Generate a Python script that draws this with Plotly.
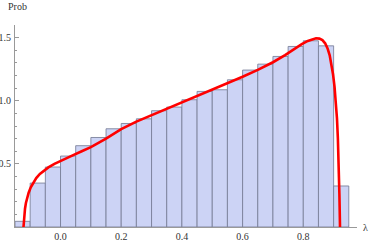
import plotly.graph_objects as go

# Histogram bins (left edges) and heights
bin_left = [-0.15, -0.10, -0.05, 0.00, 0.05, 0.10, 0.15, 0.20, 0.25, 0.30, 0.35,
            0.40, 0.45, 0.50, 0.55, 0.60, 0.65, 0.70, 0.75, 0.80, 0.85, 0.90]
bin_height = [0.045, 0.348, 0.475, 0.562, 0.644, 0.709, 0.778, 0.820, 0.857, 0.921, 0.950,
              1.008, 1.074, 1.087, 1.166, 1.243, 1.290, 1.351, 1.430, 1.475, 1.435, 0.325]
bin_width = 0.05

# Density curve
curve_x = [-0.122, -0.1205, -0.119, -0.117, -0.114, -0.110, -0.105, -0.098, -0.090, -0.080,
           -0.068, -0.055, -0.040, -0.020, 0.000, 0.020, 0.040, 0.070, 0.100, 0.150,
           0.200, 0.250, 0.300, 0.350, 0.400, 0.450, 0.500, 0.550, 0.600, 0.650,
           0.700, 0.740, 0.770, 0.795, 0.815, 0.830, 0.842, 0.853, 0.863, 0.872,
           0.880, 0.887, 0.893, 0.898, 0.903, 0.907, 0.911, 0.914, 0.917, 0.919, 0.921]
curve_y = [0.000, 0.055, 0.100, 0.145, 0.190, 0.232, 0.272, 0.315, 0.352, 0.388,
           0.420, 0.447, 0.472, 0.500, 0.524, 0.546, 0.567, 0.600, 0.632, 0.700,
           0.775, 0.835, 0.885, 0.935, 0.985, 1.035, 1.085, 1.135, 1.190, 1.245,
           1.305, 1.362, 1.410, 1.448, 1.474, 1.489, 1.495, 1.492, 1.480, 1.455,
           1.415, 1.360, 1.290, 1.210, 1.110, 1.000, 0.860, 0.700, 0.480, 0.260, 0.000]

x_tickvals = [0.0, 0.2, 0.4, 0.6, 0.8]
x_ticktext = ["0.0", "0.2", "0.4", "0.6", "0.8"]
y_tickvals = [0.5, 1.0, 1.5]
y_ticktext = ["0.5", "1.0", "1.5"]

centers = [b + bin_width / 2 for b in bin_left]

fig = go.Figure()
fig.add_trace(go.Bar(
    x=centers, y=bin_height, width=bin_width,
    marker=dict(color="rgb(204,211,245)",
                line=dict(color="rgba(120,126,150,0.85)", width=1)),
    showlegend=False, hoverinfo="skip"))
fig.add_trace(go.Scatter(
    x=curve_x, y=curve_y, mode="lines",
    line=dict(color="rgb(255,0,0)", width=2.6),
    showlegend=False, hoverinfo="skip"))

serif = "Times New Roman, Liberation Serif, serif"
tickfont = dict(family=serif, size=10, color="#333333")

fig.update_layout(
    width=371, height=242,
    margin=dict(l=15, r=14, t=25, b=15, autoexpand=False),
    paper_bgcolor="white", plot_bgcolor="white",
    bargap=0,
    xaxis=dict(range=[-0.15, 0.977], showgrid=False, zeroline=False, automargin=False,
               showline=True, linecolor="#999999", linewidth=1,
               tickvals=x_tickvals, ticktext=x_ticktext,
               ticks="inside", ticklen=4, tickcolor="#999999",
               minor=dict(dtick=0.05, tick0=0, ticks="inside", ticklen=2, tickcolor="#999999"),
               tickfont=tickfont, ticklabelstandoff=0, layer="below traces"),
    yaxis=dict(range=[0, 1.6], showgrid=False, zeroline=False, automargin=False,
               showline=True, linecolor="#999999", linewidth=1,
               tickvals=y_tickvals, ticktext=y_ticktext,
               ticks="inside", ticklen=4, tickcolor="#999999",
               minor=dict(dtick=0.1, tick0=0, ticks="inside", ticklen=2, tickcolor="#999999"),
               tickfont=tickfont, ticklabelstandoff=1, layer="below traces"),
    annotations=[
        dict(text="Prob", x=0, y=1.0, xref="paper", yref="paper",
             xshift=-9, yshift=19, xanchor="left", yanchor="middle",
             showarrow=False, font=dict(family=serif, size=10, color="#333333")),
        dict(text="λ", x=1.0, y=0, xref="paper", yref="paper",
             xshift=8, yshift=0, xanchor="center", yanchor="middle",
             showarrow=False, font=dict(family=serif, size=10, color="#333333")),
    ],
)

fig.write_html("out.html", config={"displayModeBar": False, "staticPlot": True},
               post_script="document.body.style.margin='0';document.body.style.overflow='hidden';")
